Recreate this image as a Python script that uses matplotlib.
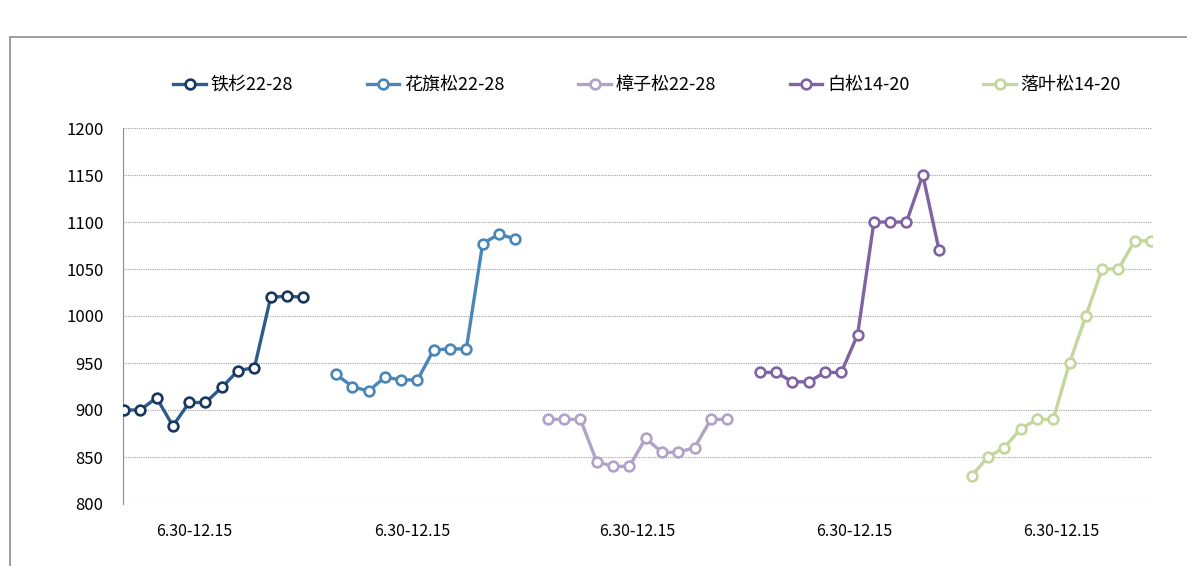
import numpy as np
import matplotlib.pyplot as plt
from matplotlib.patches import Rectangle

plt.rcParams['font.family'] = ['Noto Sans CJK SC', 'DejaVu Sans']

# Series names and values (12 observations each, 6.30 - 12.15)
names = ['铁杉22-28', '花旗松22-28', '樟子松22-28', '白松14-20', '落叶松14-20']
tieshan = [900, 900, 913, 883, 908, 908, 924, 942, 945, 1020, 1021, 1020]
huaqisong = [938, 925, 920, 935, 932, 932, 964, 965, 965, 1077, 1087, 1082]
zhangzisong = [890, 890, 890, 845, 840, 840, 870, 855, 855, 860, 890, 890]
baisong = [940, 940, 930, 930, 940, 940, 980, 1100, 1100, 1100, 1150, 1070]
luoyesong = [830, 850, 860, 880, 890, 890, 950, 1000, 1050, 1050, 1080, 1080]
series = [tieshan, huaqisong, zhangzisong, baisong, luoyesong]

cat_label = '6.30-12.15'
cat_pos = [4.3, 17.7, 31.5, 44.8, 57.5]
yticks = [800, 850, 900, 950, 1000, 1050, 1100, 1150, 1200]

line_colors = ['#2E5B8E', '#4A86B8', '#B3A2C7', '#8064A2', '#C3D69B']
edge_colors = ['#17375E', '#4A86B8', '#B3A2C7', '#8064A2', '#C3D69B']

fig = plt.figure(figsize=(11.87, 5.66), dpi=100)
ax = fig.add_axes([123 / 1187, 1 - 504 / 566, (1152 - 123) / 1187, (504 - 128) / 566])

# chart-area border (top and left visible)
fig.patches.append(Rectangle((10 / 1187, -0.1), 1.2, 1 - 37 / 566 + 0.1,
                             transform=fig.transFigure, fill=False,
                             edgecolor='#8C8C8C', linewidth=1.2))

n = len(tieshan)
for i, vals in enumerate(series):
    x = i * (n + 1) + np.arange(n)
    ax.plot(x, vals, color=line_colors[i], linewidth=2.4, marker='o',
            markersize=7, markerfacecolor='white', markeredgecolor=edge_colors[i],
            markeredgewidth=1.9, label=names[i], zorder=3)

ax.set_ylim(800, 1200)
ax.set_xlim(-0.06, 5 * (n + 1) - 1 - 0.94)
ax.set_yticks(yticks)
ax.yaxis.grid(True, linestyle=(0, (1, 1)), color='#A0A0A0', linewidth=0.8)
ax.set_axisbelow(True)
for s in ['top', 'right', 'bottom']:
    ax.spines[s].set_visible(False)
ax.spines['left'].set_color('#8C8C8C')
ax.tick_params(axis='y', length=0, pad=14, labelsize=12)
ax.set_xticks(cat_pos, [cat_label] * len(cat_pos))
ax.tick_params(axis='x', length=0, pad=14, labelsize=11.5)

ax.legend(loc='center', bbox_to_anchor=(647 / 1187, 1 - 85 / 566), bbox_transform=fig.transFigure,
          ncol=5, frameon=False, fontsize=13, handlelength=1.8, handletextpad=0.25,
          columnspacing=4.1)

fig.savefig('out.png', dpi=100)
